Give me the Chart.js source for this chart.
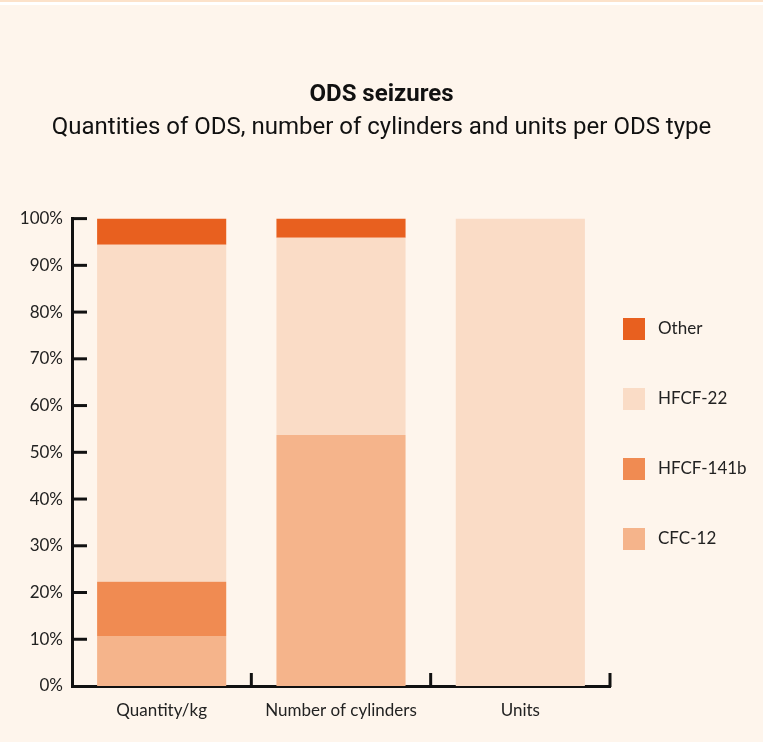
<!DOCTYPE html>
<html>
<head>
<meta charset="utf-8">
<script src="https://cdn.jsdelivr.net/npm/chart.js@4.4.1/dist/chart.umd.min.js"></script>
<style>
  html, body { margin: 0; padding: 0; }
  body {
    width: 763px; height: 742px; overflow: hidden;
    background: linear-gradient(#FCE2CA 0 2px, #ffffff 2px 5px, #FEF5EC 5px);
  }
  #wrap { position: relative; width: 763px; height: 742px; }
</style>
</head>
<body>
<div id="wrap"><canvas id="odsChart"></canvas></div>
<script>
// --- données ---
const categories = ['Quantity/kg', 'Number of cylinders', 'Units'];
const cfc12 = [10.7, 53.7, 0];
const hcfc141b = [11.6, 0, 0];
const hcfc22 = [72.1, 42.2, 100];
const other = [5.6, 4.1, 0];
const yTicks = [0, 10, 20, 30, 40, 50, 60, 70, 80, 90, 100];

const AXIS_FONT = 'Lato, "Noto Sans", sans-serif';

// petites graduations vers l'intérieur (comme l'original)
const innerTicks = {
    id: 'innerTicks',
    afterDraw(chart) {
        const { ctx, chartArea, scales } = chart;
        ctx.save();
        ctx.strokeStyle = '#111';
        ctx.lineWidth = 3;
        yTicks.forEach(v => {
            if (v === 0) return;
            const py = scales.y.getPixelForValue(v);
            ctx.beginPath();
            ctx.moveTo(chartArea.left, py);
            ctx.lineTo(chartArea.left + 15, py);
            ctx.stroke();
        });
        for (let i = 0; i < categories.length; i++) {
            const px = scales.x.getPixelForValue(i + 0.5);
            ctx.beginPath();
            ctx.moveTo(px, chartArea.bottom + 1);
            ctx.lineTo(px, chartArea.bottom - 13);
            ctx.stroke();
        }
        ctx.restore();
    }
};

// légende dessinée à droite, ordre inversé (Other en haut)
const sideLegend = {
    id: 'sideLegend',
    afterDraw(chart) {
        const { ctx, chartArea } = chart;
        const sets = chart.data.datasets.slice().reverse();
        ctx.save();
        ctx.font = '17px ' + AXIS_FONT;
        ctx.textBaseline = 'middle';
        sets.forEach((ds, i) => {
            const top = 318 + i * 70;
            ctx.fillStyle = ds.backgroundColor;
            ctx.fillRect(chartArea.right + 13, top, 22, 22);
            ctx.fillStyle = '#222';
            ctx.fillText(ds.label, chartArea.right + 48, top + 11);
        });
        ctx.restore();
    }
};

new Chart(document.getElementById('odsChart'), {
    type: 'bar',
    data: {
        labels: categories,
        datasets: [
            { label: 'CFC-12', data: cfc12, backgroundColor: '#F5B48B' },
            { label: 'HFCF-141b', data: hcfc141b, backgroundColor: '#F08B52' },
            { label: 'HFCF-22', data: hcfc22, backgroundColor: '#FADCC6' },
            { label: 'Other', data: other, backgroundColor: '#E8601F' }
        ]
    },
    options: {
        responsive: true,
        maintainAspectRatio: false,
        animation: false,
        layout: { padding: 0 },
        datasets: { bar: { barPercentage: 0.72, categoryPercentage: 1, borderWidth: 0 } },
        plugins: {
            legend: { display: false },
            tooltip: { enabled: false },
            title: {
                display: true,
                text: 'ODS seizures',
                color: '#111',
                font: { family: 'Roboto', size: 24, weight: 'bold', lineHeight: 1.2 },
                padding: { top: 81, bottom: 4 }
            },
            subtitle: {
                display: true,
                text: 'Quantities of ODS, number of cylinders and units per ODS type',
                color: '#111',
                font: { family: 'Roboto', size: 24, lineHeight: 1.2 },
                padding: { top: 0, bottom: 76 }
            }
        },
        scales: {
            x: {
                stacked: true,
                grid: { display: false },
                border: { color: '#111', width: 3 },
                ticks: { color: '#222', font: { family: AXIS_FONT, size: 17 }, padding: 6 },
                afterFit(scale) { scale.height = 56; }
            },
            y: {
                stacked: true,
                min: 0,
                max: 100,
                grid: { display: false, drawTicks: false },
                border: { color: '#111', width: 3 },
                ticks: {
                    stepSize: 10,
                    color: '#222',
                    font: { family: AXIS_FONT, size: 17 },
                    padding: 9,
                    callback: v => v + '%'
                },
                afterFit(scale) { scale.width = 72; }
            },
            // axe vide à droite : réserve la place de la légende
            side: {
                position: 'right',
                display: true,
                grid: { display: false },
                border: { display: false },
                ticks: { display: false },
                afterFit(scale) { scale.width = 153; }
            }
        }
    },
    plugins: [innerTicks, sideLegend]
});
</script>
</body>
</html>
